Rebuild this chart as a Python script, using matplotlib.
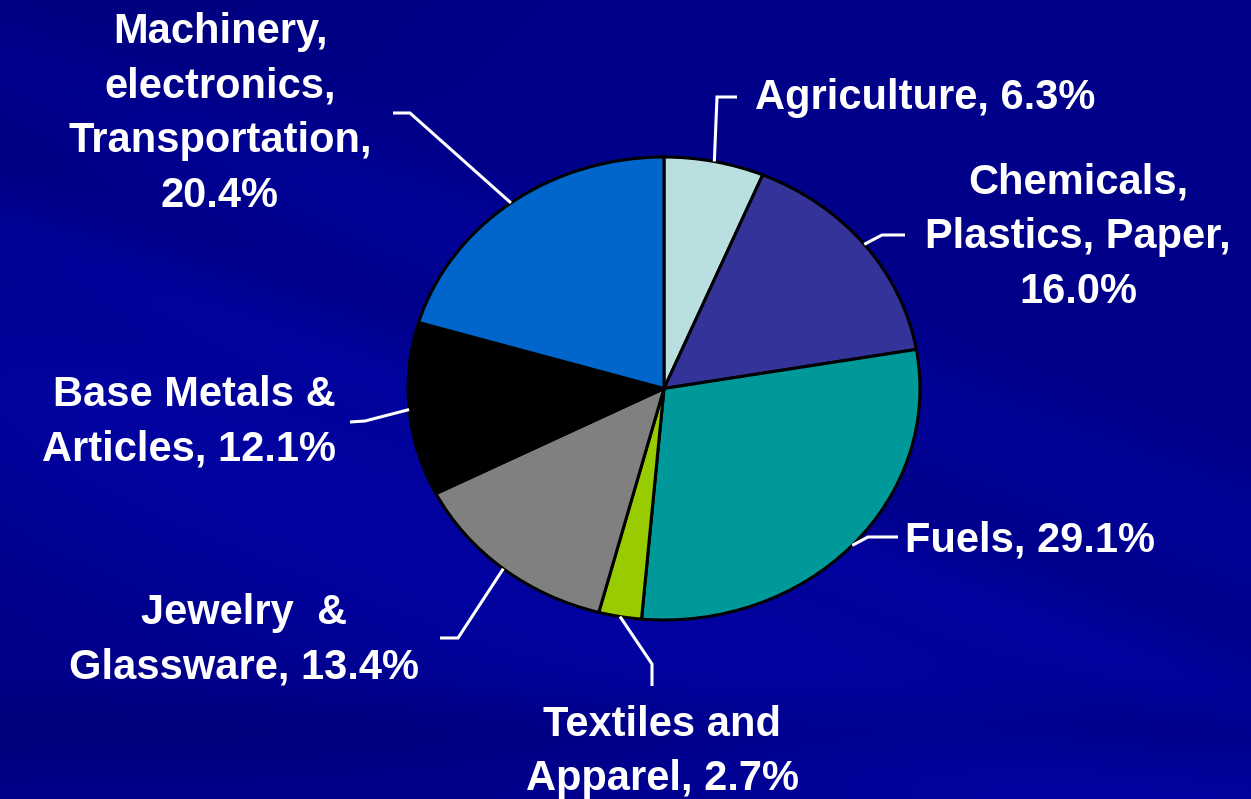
import numpy as np
import matplotlib
matplotlib.use("Agg")
import matplotlib.pyplot as plt

# ---- data ----
categories = ["Agriculture", "Chemicals,\nPlastics, Paper", "Fuels", "Textiles and\nApparel",
              "Jewelry  &\nGlassware", "Base Metals &\nArticles", "Machinery,\nelectronics,\nTransportation"]
values = [6.3, 16.0, 29.1, 2.7, 13.4, 12.1, 20.4]
colors = ["#B9DFE0", "#333399", "#009999", "#99CC00", "#808080", "#000000", "#0066CC"]
label_texts = [
    "Agriculture, 6.3%",
    "Chemicals,\nPlastics, Paper,\n16.0%",
    "Fuels, 29.1%",
    "Textiles and\nApparel, 2.7%",
    "Jewelry  &\nGlassware, 13.4%",
    "Base Metals &\nArticles, 12.1%",
    "Machinery,\nelectronics,\nTransportation,\n20.4%",
]

# ---- layout (pixel coords, origin top-left) ----
W, H = 1251, 799
CX, CY, RX, RY = 664, 388.5, 256, 231.5
# label anchor, ha, multialignment, leader elbow, leader end
label_layout = [
    ((755, 98), "left", "left", (717, 97), (737, 97)),
    ((1078, 237), "center", "center", (882, 235), (905, 235)),
    ((905, 540), "left", "left", (868, 537), (898, 537)),
    ((662, 752), "center", "center", (652, 664), (652, 686)),
    ((244, 640), "center", "center", (458, 638), (440, 638)),
    ((336, 422), "right", "right", (365, 421), (350, 422)),
    ((220, 114), "center", "center", (410, 113), (393, 113)),
]

fig = plt.figure(figsize=(W / 100, H / 100), dpi=100)

# ---- background ----
bg = fig.add_axes([0, 0, 1, 1])
yy, xx = np.mgrid[0:H:2, 0:W:2].astype(float)
base = np.zeros(xx.shape)
d = yy - 0.38 * xx
base += 0.10 * np.exp(-((d - 380) / 160.0) ** 2)
base += 0.06 * np.exp(-((d - 60) / 60.0) ** 2)
base += 0.05 * np.exp(-((d - 230) / 40.0) ** 2)
base -= 0.06 * np.exp(-((yy - 730) / 40.0) ** 2)
base -= 0.05 * np.exp(-((xx + yy) / 400.0) ** 2)
r = np.clip(0.0 + 0.10 * base, 0, 1)
g = np.clip(0.0 + 0.10 * base, 0, 1)
b = np.clip(0.54 + 0.9 * base, 0, 1)
img = np.dstack([r, g, b])
bg.imshow(img, extent=[0, W, H, 0], aspect="auto", interpolation="bilinear")
bg.set_xlim(0, W)
bg.set_ylim(H, 0)
bg.set_axis_off()

# ---- pie ----
pax = fig.add_axes([(CX - RX) / W, (H - (CY + RY)) / H, 2 * RX / W, 2 * RY / H])
wedges, _ = pax.pie(values, colors=colors, startangle=90, counterclock=False,
                    wedgeprops=dict(edgecolor="black", linewidth=2.2))
for w in wedges:
    w.set_clip_on(False)
pax.set_aspect("auto")
pax.set_xlim(-1, 1)
pax.set_ylim(-1, 1)
pax.set_axis_off()

# ---- overlay for labels / leaders ----
ov = fig.add_axes([0, 0, 1, 1], facecolor="none")
ov.set_xlim(0, W)
ov.set_ylim(H, 0)
ov.set_axis_off()

total = sum(values)
cum = 0.0
for v, txt, (pos, ha, ma, elbow, end) in zip(values, label_texts, label_layout):
    mid = (cum + v / 2) / total * 2 * np.pi
    cum += v
    sx = CX + RX * np.sin(mid)
    sy = CY - RY * np.cos(mid)
    ov.plot([sx, elbow[0], end[0]], [sy, elbow[1], end[1]], color="white",
            lw=2.2, solid_capstyle="butt", solid_joinstyle="miter")
    ov.text(pos[0], pos[1], txt, ha=ha, va="center", multialignment=ma,
            color="white", fontsize=30, fontweight="bold",
            family=["Liberation Sans", "DejaVu Sans"], linespacing=1.47)

fig.savefig("out.png", dpi=100, facecolor="#000088")
